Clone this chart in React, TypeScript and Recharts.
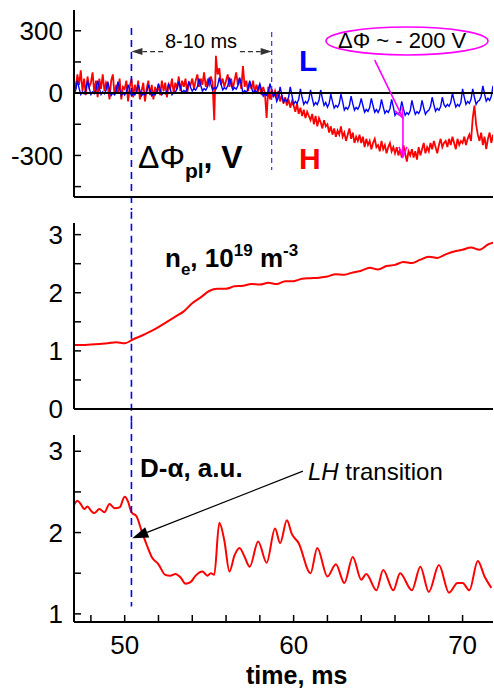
import React from 'react';
import { LineChart, Line, XAxis, YAxis, ReferenceLine } from 'recharts';

const FONT = '"Liberation Sans", Arial, Helvetica, sans-serif';

// panel 1: plasma potential, sampled every 0.1 ms from 47.0 ms
const phiH = [
  60, 20, 90, 40, 110, 10, 70, -10, 80, 30,
  50, 100, 0, 60, -20, 70, 20, 90, 10, 50,
  30, -30, 60, 90, -10, 40, 0, 70, -30, 30,
  20, 60, -40, 30, 70, -20, 40, 0, 60, -30,
  10, 50, -40, 20, 60, -10, 40, -30, 30, 0,
  40, -10, 60, 10, 50, -20, 40, 20, 70, 0,
  50, 20, 80, 10, 60, 30, 70, 0, 50, 40,
  70, 20, 60, 90, 30, 70, 40, 100, 30, 60,
  40, 80, 50, -130, 180, 90, 120, 40, 70, 30,
  60, 90, 30, 70, 20, 60, 100, 40, 70, 20,
  130, 30, 60, 10, 50, 20, 60, 0, 40, 10,
  40, -10, 30, 0, -120, 30, -30, 20, -20, 10,
  -20, 10, -40, -10, -50, -20, -60, -30, -70, -40,
  -60, -90, -50, -100, -70, -110, -80, -120, -90, -110,
  -130, -100, -150, -110, -160, -120, -140, -170, -130, -160,
  -150, -190, -160, -200, -170, -210, -180, -200, -160, -210,
  -190, -230, -200, -170, -220, -190, -240, -210, -230, -200,
  -240, -210, -260, -220, -250, -230, -270, -240, -220, -260,
  -250, -280, -230, -270, -250, -290, -260, -240, -280, -260,
  -290, -260, -300, -270, -310, -250, -290, -330, -280, -300,
  -270, -310, -280, -320, -260, -300, -270, -240, -290, -260,
  -280, -240, -270, -230, -260, -290, -250, -220, -260, -240,
  -230, -260, -220, -250, -210, -240, -270, -220, -250, -230,
  -240, -210, -250, -220, -200, -230, -120, -60, -150, -200,
  -230, -190, -250, -210, -270, -220, -190, -240, -200,
];
const phiL = [
  -3, 15, 60, 24, -7, 6, -3, 15, 60, 24,
  -7, 6, -3, 15, 60, 24, -7, 6, -3, 15,
  55, 19, -12, 1, -8, 10, 55, 19, -12, 1,
  -9, 5, 41, 12, -13, -2, -9, 5, 41, 12,
  -13, -2, -9, 5, 41, 12, -13, -2, -9, 5,
  46, 17, -8, 3, -4, 10, 46, 17, -8, 3,
  6, 20, 56, 27, 2, 13, 6, 20, 56, 27,
  10, 22, 14, 30, 70, 38, 10, 22, 14, 30,
  75, 43, 15, 27, 19, 35, 75, 43, 15, 27,
  19, 35, 75, 43, 15, 27, 19, 35, 75, 43,
  0, 12, 4, 20, 60, 28, 0, 12, 4, 20,
  45, 13, -15, -3, -11, 5, 45, 13, -15, -3,
  -40, -20, 30, -10, -44, -30, -40, -20, 30, -10,
  -54, -40, -50, -30, 20, -20, -54, -40, -50, -30,
  15, -25, -59, -45, -55, -35, 15, -25, -59, -45,
  -68, -50, -5, -41, -72, -59, -68, -50, -5, -41,
  -82, -69, -78, -60, -15, -51, -82, -69, -78, -60,
  -25, -61, -92, -79, -88, -70, -25, -61, -92, -79,
  -93, -75, -30, -66, -97, -84, -93, -75, -30, -66,
  -107, -94, -103, -85, -40, -76, -107, -94, -103, -85,
  -35, -71, -102, -89, -98, -80, -35, -71, -102, -89,
  -83, -65, -20, -56, -87, -74, -83, -65, -20, -56,
  -67, -54, -63, -45, 0, -36, -67, -54, -63, -45,
  20, -20, -54, -40, -50, -30, 20, -20, -54, -40,
  -35, -15, 35, -5, -39, -25, -35, -15, 35,
];
const phiTime = phiH.map((_, i) => +(47 + i * 0.1).toFixed(1));

// panel 2: line density
const neTime = [
  47, 47.5, 48, 48.5, 49, 49.5, 50, 50.5, 51, 51.5, 52, 52.5, 53, 53.5, 54, 54.5,
  55, 55.5, 56, 56.5, 57, 57.5, 58, 58.5, 59, 59.5, 60, 60.5, 61, 61.5, 62, 62.5,
  63, 63.5, 64, 64.5, 65, 65.5, 66, 66.5, 67, 67.5, 68, 68.5, 69, 69.5, 70, 70.5,
  71, 71.5, 71.8,
];
const neValue = [
  1.1, 1.1, 1.11, 1.12, 1.13, 1.15, 1.13, 1.2, 1.26, 1.33, 1.41, 1.5, 1.59, 1.68, 1.82, 1.92,
  2.03, 2.07, 2.07, 2.11, 2.12, 2.15, 2.14, 2.17, 2.15, 2.2, 2.2, 2.24, 2.25, 2.26, 2.28, 2.32,
  2.31, 2.35, 2.38, 2.43, 2.4, 2.46, 2.48, 2.53, 2.51, 2.57, 2.62, 2.6, 2.66, 2.71, 2.74, 2.78,
  2.74, 2.83, 2.86,
];

// panel 3: D-alpha
const daTime = [
  47, 47.2, 47.4, 47.6, 47.8, 48, 48.2, 48.5, 48.8, 49.1, 49.4, 49.7, 50, 50.2, 50.4, 50.7,
  51, 51.3, 51.6, 52, 52.4, 52.7, 53, 53.3, 53.6, 53.9, 54.2, 54.6, 54.9, 55.1, 55.3, 55.6,
  55.9, 56.2, 56.5, 56.8, 57.1, 57.4, 57.9, 58.4, 58.9, 59.2, 59.6, 59.9, 60.3, 61, 61.4, 62,
  62.5, 63, 63.5, 64, 64.3, 64.9, 65.3, 65.9, 66.3, 67, 67.5, 68, 68.6, 69.2, 69.7, 70, 70.4,
  70.9, 71.3, 71.7,
];
const daValue = [
  2.34, 2.39, 2.35, 2.29, 2.32, 2.27, 2.24, 2.29, 2.25, 2.35, 2.3, 2.31, 2.44, 2.38, 2.25, 2.2,
  2.02, 1.85, 1.7, 1.61, 1.48, 1.47, 1.49, 1.45, 1.37, 1.39, 1.47, 1.52, 1.47, 1.5, 1.48, 2.12,
  1.9, 1.52, 1.72, 1.81, 1.7, 1.58, 1.89, 1.63, 2.05, 1.87, 2.15, 1.98, 1.87, 1.5, 1.81, 1.46,
  1.61, 1.38, 1.7, 1.42, 1.49, 1.29, 1.54, 1.29, 1.5, 1.29, 1.58, 1.27, 1.6, 1.26, 1.38, 1.38, 1.29,
  1.65, 1.46, 1.32,
];

const xTicks = [48, 50, 52, 54, 56, 58, 60, 62, 64, 66, 68, 70];
const xLabels = [50, 60, 70];
const phiTicks = [-450, -300, -150, 0, 150, 300];
const phiLabels = [-300, 0, 300];
const neTicks = [0, 0.5, 1, 1.5, 2, 2.5, 3];
const daTicks = [1, 1.5, 2, 2.5, 3];
const intLabels = [0, 1, 2, 3];

const tLH = 50.4; // L-H transition time
const tEnd = 58.7;

const phiData = phiTime.map((t, i) => ({ t, h: phiH[i], l: phiL[i] }));
const neData = neTime.map((t, i) => ({ t, ne: neValue[i] }));
const daData = daTime.map((t, i) => ({ t, da: daValue[i] }));

const X_DOMAIN: [number, number] = [47, 71.8];
const W = 494;
const axisLine = { stroke: '#000', strokeWidth: 2 };
const tickLine = { stroke: '#000', strokeWidth: 1.5 };
const tickFont = { fill: '#000', fontSize: 26, fontFamily: FONT };

// line with arrowhead at (x2, y2)
const arrow = (color: string, filled: boolean, width = 1.3, dash?: string, len = 12, half = 4.5) =>
  (p: any) => {
    const { x1, y1, x2, y2 } = p;
    if (x1 == null || x2 == null) return <g />;
    const a = Math.atan2(y2 - y1, x2 - x1);
    const bx = x2 - len * Math.cos(a);
    const by = y2 - len * Math.sin(a);
    const lx = bx + half * Math.sin(a);
    const ly = by - half * Math.cos(a);
    const rx = bx - half * Math.sin(a);
    const ry = by + half * Math.cos(a);
    return (
      <g>
        <line x1={x1} y1={y1} x2={filled ? bx : x2} y2={filled ? by : y2}
          stroke={color} strokeWidth={width} strokeDasharray={dash} />
        {filled
          ? <polygon points={`${lx},${ly} ${x2},${y2} ${rx},${ry}`} fill={color} />
          : <polyline points={`${lx},${ly} ${x2},${y2} ${rx},${ry}`} fill="none" stroke={color} strokeWidth={width} />}
      </g>
    );
  };

const fmt = (labels: number[]) => (v: number) => (labels.includes(v) ? String(v) : '');

const frame = (domain: [number, number], ticks: number[], labels: number[], showX: boolean, xHeight: number, outBottom = false) => [
  <XAxis key="xb" xAxisId={0} type="number" dataKey="t" domain={X_DOMAIN} ticks={xTicks} allowDataOverflow
    height={xHeight} axisLine={axisLine} tickLine={tickLine} tickSize={outBottom ? 7 : -7} tickMargin={21}
    tick={showX ? tickFont : false} tickFormatter={fmt(xLabels)} interval={0} />,
  <XAxis key="xt" xAxisId="top" orientation="top" type="number" dataKey="t" domain={X_DOMAIN} ticks={xTicks}
    allowDataOverflow height={0} axisLine={axisLine} tickLine={tickLine} tickSize={-7} tick={false} />,
  <YAxis key="yl" yAxisId={0} type="number" domain={domain} ticks={ticks} allowDataOverflow width={74}
    axisLine={axisLine} tickLine={tickLine} tickSize={-7} tickMargin={18} tick={tickFont}
    tickFormatter={fmt(labels)} interval={0} />,
  <YAxis key="yr" yAxisId="right" orientation="right" type="number" domain={domain} ticks={ticks}
    allowDataOverflow width={0} axisLine={axisLine} tickLine={tickLine} tickSize={-7} tick={false} />,
];

const blueDash = { stroke: '#0000ff', strokeWidth: 1.6, strokeDasharray: '7 5' };

export default function App() {
  return (
    <div style={{ position: 'absolute', left: 0, top: 0, width: W, height: 689, background: '#fff', fontFamily: FONT }}>
      <div style={{ position: 'absolute', left: 0, top: 0 }}>
        <LineChart width={W} height={210} data={phiData} margin={{ top: 10, right: 1, bottom: 0, left: 0 }}>
          {frame([-500, 400], phiTicks, phiLabels, false, 13, true)}
          <Line type="linear" dataKey="h" stroke="#ff0000" strokeWidth={1.8} dot={false} isAnimationActive={false} />
          <Line type="linear" dataKey="l" stroke="#0000ff" strokeWidth={1.4} dot={false} isAnimationActive={false} />
          <ReferenceLine y={0} stroke="#000" strokeWidth={2} />
          <ReferenceLine segment={[{ x: tLH, y: 313 }, { x: tLH, y: -800 }]} ifOverflow="visible" {...blueDash} />
          <ReferenceLine segment={[{ x: tEnd, y: 294 }, { x: tEnd, y: -370 }]} ifOverflow="visible"
            stroke="#3333ff" strokeWidth={1.2} strokeDasharray="5 4" />
          <ReferenceLine segment={[{ x: 52.27, y: 200 }, { x: tLH, y: 200 }]} ifOverflow="visible"
            shape={arrow('#333', true, 1.2, '5 3', 11, 3.5)} />
          <ReferenceLine segment={[{ x: 56.82, y: 200 }, { x: tEnd, y: 200 }]} ifOverflow="visible"
            shape={arrow('#333', true, 1.2, '5 3', 11, 3.5)} />
          <ReferenceLine segment={[{ x: 64.8, y: 159 }, { x: 66.47, y: -120 }]} ifOverflow="visible"
            shape={arrow('#ff00ff', false, 1.6, undefined, 10, 4)} />
          <ReferenceLine segment={[{ x: 66.47, y: -120 }, { x: 66.47, y: -307 }]} ifOverflow="visible"
            shape={arrow('#ff00ff', false, 1.6, undefined, 10, 4)} />
        </LineChart>
      </div>
      <div style={{ position: 'absolute', left: 0, top: 210 }}>
        <LineChart width={W} height={232} data={neData} margin={{ top: 13, right: 1, bottom: 0, left: 0 }}>
          {frame([0, 3.2], neTicks, intLabels, false, 33)}
          <Line type="monotone" dataKey="ne" stroke="#ff0000" strokeWidth={2} dot={false} isAnimationActive={false} />
          <ReferenceLine segment={[{ x: tLH, y: 3.6 }, { x: tLH, y: -0.22 }]} ifOverflow="visible" {...blueDash} />
        </LineChart>
      </div>
      <div style={{ position: 'absolute', left: 0, top: 422 }}>
        <LineChart width={W} height={267} data={daData} margin={{ top: 13, right: 1, bottom: 0, left: 0 }}>
          {frame([0.9, 3.2], daTicks, intLabels, true, 67)}
          <Line type="monotone" dataKey="da" stroke="#ff0000" strokeWidth={2} dot={false} isAnimationActive={false} />
          <ReferenceLine segment={[{ x: tLH, y: 3.36 }, { x: tLH, y: 1.09 }]} ifOverflow="visible" {...blueDash} />
          <ReferenceLine segment={[{ x: 60.55, y: 2.755 }, { x: 50.45, y: 1.93 }]} ifOverflow="visible"
            shape={arrow('#000', true, 1.2, undefined, 16, 5.5)} />
        </LineChart>
      </div>
      <svg width={W} height={689} style={{ position: 'absolute', left: 0, top: 0, pointerEvents: 'none' }}
        fontFamily={FONT}>
        <text x={201} y={48} fontSize={20} textAnchor="middle" fill="#000">8-10 ms</text>
        <ellipse cx={407} cy={41} rx={81} ry={14} fill="none" stroke="#ff00ff" strokeWidth={1.6} />
        <text x={338} y={48} fontSize={22} fill="#000">ΔΦ ~ - 200 V</text>
        <text x={299} y={71} fontSize={30} fontWeight="bold" fill="#0000ff">L</text>
        <text x={299} y={169} fontSize={30} fontWeight="bold" fill="#ff0000">H</text>
        <text x={138} y={168} fontSize={32} fill="#000">
          ΔΦ<tspan fontSize={21} fontWeight="bold" dy={10}>pl</tspan>
          <tspan fontWeight="bold" dy={-10}>, V</tspan>
        </text>
        <text x={165} y={267} fontSize={26} fontWeight="bold" fill="#000">
          n<tspan fontSize={17} dy={8}>e</tspan>
          <tspan dy={-8}>, 10</tspan>
          <tspan fontSize={17} dy={-11}>19</tspan>
          <tspan dy={11}> m</tspan>
          <tspan fontSize={17} dy={-11}>-3</tspan>
        </text>
        <text x={140} y={477} fontSize={26} fontWeight="bold" fill="#000">D-α, a.u.</text>
        <text x={308} y={480} fontSize={24} fill="#000">
          <tspan fontStyle="italic">LH</tspan> transition
        </text>
        <text x={246} y={684} fontSize={25} fontWeight="bold" fill="#000">time, ms</text>
      </svg>
    </div>
  );
}
